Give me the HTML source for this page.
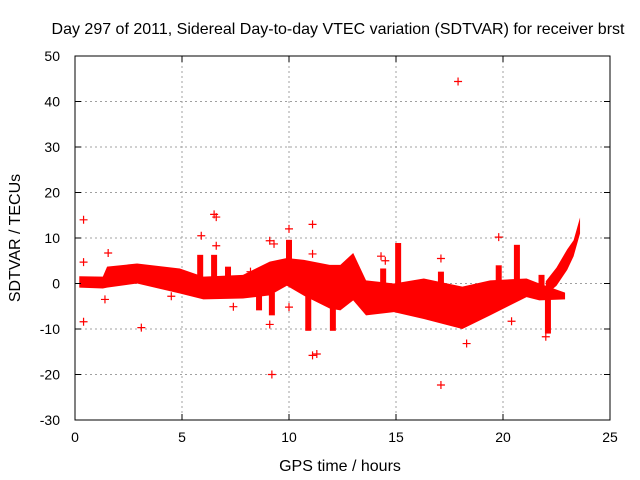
<!DOCTYPE html>
<html><head><meta charset="utf-8"><style>
body{margin:0;background:#fff}
svg{display:block;font-family:"Liberation Sans",sans-serif}
</style></head><body>
<svg id="chart" width="640" height="480">
<text x="338" y="34" text-anchor="middle" font-size="16">Day 297 of 2011, Sidereal Day-to-day VTEC variation (SDTVAR) for receiver brst</text>
<text x="340" y="471" text-anchor="middle" font-size="16">GPS time / hours</text>
<text transform="translate(20,238) rotate(-90)" text-anchor="middle" font-size="16">SDTVAR / TECUs</text>
<g id="grid"></g><g id="marks"></g><g id="axes"></g>
</svg>
<script>
const xTicks=[0,5,10,15,20,25];
const yTicks=[-30,-20,-10,0,10,20,30,40,50];
const bandTime=[0.2,1.3,1.5,2.9,4.9,6.0,7.85,9.1,9.9,10.7,11.9,12.4,13.0,13.6,14.9,16.3,18.1,19.4,21.1,21.7,22.9];
const bandUpper=[1.6,1.5,3.7,4.4,3.3,1.5,1.9,4.8,5.6,5.2,4.1,4.1,6.7,0.7,0.0,1.1,-0.7,0.7,1.1,0.0,-2.0];
const bandLower=[-0.9,-1.1,-0.9,0.0,-2.2,-3.5,-3.3,-2.6,-0.5,-2.7,-5.5,-5.9,-3.7,-7.0,-6.3,-7.8,-10.0,-7.0,-3.0,-3.7,-3.5];
const streakTime=[22.0,22.5,23.0,23.3,23.6];
const streakUpper=[0.5,3.5,7.5,9.5,14.5];
const streakLower=[-2.5,-0.5,3.0,6.0,11.0];
const spikeTime=[5.85,6.5,7.15,8.6,9.2,10.0,10.9,12.05,14.4,15.1,17.1,19.8,20.65,21.8,22.1];
const spikeTo=[6.3,6.3,3.7,-5.9,-7.0,9.6,-10.4,-10.4,3.3,8.9,2.6,4.0,8.5,1.9,-11.0];
const spikeFrom=[0,0,0,-2,-2,2,-2,-4,-2,-3,-3,-3,-1,-1,-1];
const outT=[0.4,0.4,0.4,1.4,1.55,3.1,4.5,5.9,6.5,6.6,6.6,7.4,8.2,9.1,9.1,9.2,9.3,10.0,10.0,11.1,11.1,11.1,11.3,14.3,14.5,17.1,17.1,17.9,18.3,19.8,20.4,22.0];
const outV=[14,4.7,-8.4,-3.5,6.7,-9.7,-2.8,10.5,15.2,14.6,8.3,-5.1,2.6,9.4,-9,-20,8.7,-5.2,12,6.5,13,-15.8,-15.5,6,5,5.5,-22.3,44.4,-13.2,10.2,-8.3,-11.7];
const X0=75,X1=610,Y0=420,Y1=56;
const sx=v=>X0+(v-0)/25*(X1-X0);
const sy=v=>Y0-(v+30)/80*(Y0-Y1);
const NS="http://www.w3.org/2000/svg";
function mk(tag,attrs,parent){const e=document.createElementNS(NS,tag);for(const k in attrs)e.setAttribute(k,attrs[k]);parent.appendChild(e);return e;}
const grid=document.getElementById('grid'),marks=document.getElementById('marks'),axes=document.getElementById('axes');
xTicks.forEach(t=>{
 if(t>0&&t<25){const g=mk('line',{x1:sx(t),x2:sx(t),y1:Y1,y2:Y0,stroke:'#a0a0a0','stroke-dasharray':'2,3'},grid);
 
 }
 const l=mk('text',{x:sx(t),y:Y0+22,'text-anchor':'middle','font-size':14},axes);l.textContent=t;
 
 
 mk('line',{x1:sx(t),x2:sx(t),y1:Y0,y2:Y0-6,stroke:'#000'},axes);
 mk('line',{x1:sx(t),x2:sx(t),y1:Y1,y2:Y1+6,stroke:'#000'},axes);
});
yTicks.forEach(t=>{
 if(t>-30&&t<50){const g=mk('line',{x1:X0,x2:X1,y1:sy(t),y2:sy(t),stroke:'#a0a0a0','stroke-dasharray':'2,3'},grid);
 
 }
 const l=mk('text',{x:X0-15,y:sy(t)+5,'text-anchor':'end','font-size':14},axes);l.textContent=t;
 
 
 mk('line',{x1:X0,x2:X0+6,y1:sy(t),y2:sy(t),stroke:'#000'},axes);
 mk('line',{x1:X1,x2:X1-6,y1:sy(t),y2:sy(t),stroke:'#000'},axes);
});
const fr=mk('rect',{x:X0,y:Y1,width:X1-X0,height:Y0-Y1,fill:'none',stroke:'#000'},axes);


function band(ts,up,lo,name){
 let p=ts.map((t,i)=>sx(t)+','+sy(up[i]));
 for(let i=ts.length-1;i>=0;i--)p.push(sx(ts[i])+','+sy(lo[i]));
 const e=mk('polygon',{points:p.join(' '),fill:'#ff0000'},marks);
 
 
}
band(bandTime,bandUpper,bandLower,'sdtvar-band');
band(streakTime,streakUpper,streakLower,'sdtvar-rising-streak');
spikeTime.forEach((t,i)=>{
 const a=Math.min(sy(spikeTo[i]),sy(spikeFrom[i])),b=Math.max(sy(spikeTo[i]),sy(spikeFrom[i]));
 const e=mk('rect',{x:sx(t)-3,y:a,width:6,height:b-a,fill:'#ff0000'},marks);
 
 
});
outT.forEach((t,i)=>{
 const x=sx(t),y=sy(outV[i]);
 const e=mk('path',{d:`M${x-4},${y}H${x+4}M${x},${y-4}V${y+4}`,stroke:'#ff0000','stroke-width':1.2},marks);
 
 
});
</script>
</body></html>
